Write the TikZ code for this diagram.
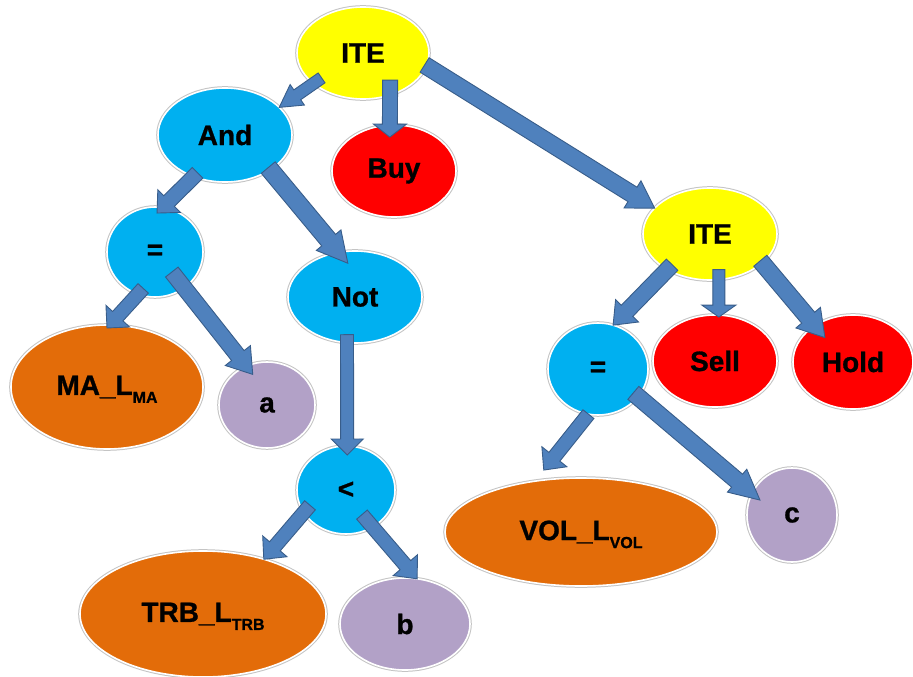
\documentclass[tikz,border=0pt]{standalone}
\usepackage{fontspec}
\setmainfont{Liberation Sans}[BoldFeatures={FakeBold=0.9}]
\usetikzlibrary{calc,shapes.geometric}

\definecolor{ityel}{HTML}{FFFF00}
\definecolor{opblue}{HTML}{00B0F0}
\definecolor{actred}{HTML}{FF0000}
\definecolor{indorg}{HTML}{E36C09}
\definecolor{parlav}{HTML}{B2A1C7}
\definecolor{arrfill}{HTML}{4F81BD}
\definecolor{arredge}{HTML}{385D8A}
\definecolor{ringgray}{HTML}{C4C4C4}

% lowered subscript that does not change the box height
\newcommand\lsub[1]{\raisebox{-8pt}[0pt][0pt]{\fontsize{16}{16}\selectfont #1}}

\tikzset{
  tnode/.style={ellipse, inner sep=0pt, outer sep=0pt, fill=#1,
    draw=white, line width=1.6pt,
    preaction={draw=ringgray, line width=3.6pt},
    font=\fontsize{28}{28}\selectfont\bfseries},
  blockarrow/.style={fill=arrfill, draw=arredge, line width=0.9pt, line join=miter},
}

% block arrow: start, tip, shaft half width, head half width, head length
\newcommand\barrow[5]{%
  \coordinate (bs) at #1;
  \coordinate (bt) at #2;
  \coordinate (bb) at ($(bt)!#5pt!(bs)$);
  \draw[blockarrow]
    ($(bs)!#3pt!90:(bt)$) -- ($(bb)!#3pt!90:(bt)$) -- ($(bb)!#4pt!90:(bt)$)
    -- (bt) -- ($(bb)!#4pt!-90:(bt)$) -- ($(bb)!#3pt!-90:(bt)$)
    -- ($(bs)!#3pt!-90:(bt)$) -- cycle;
}

\begin{document}
\begin{tikzpicture}[x=1pt, y=1pt]
\useasboundingbox[fill=white] (0,0) rectangle (913,-677);

% ---- tree nodes ----
\node[tnode=ityel,  minimum width=132pt, minimum height=92pt]  (ite1) at (363,-53)  {ITE};
\node[tnode=opblue, minimum width=134pt, minimum height=94pt]  (and)  at (225,-135) {And};
\node[tnode=actred, minimum width=124pt, minimum height=92pt]  (buy)  at (394,-171) {Buy};
\node[tnode=opblue, minimum width=96pt,  minimum height=90pt]  (eq1)  at (155,-252) {=};
\node[tnode=opblue, minimum width=134pt, minimum height=92pt]  (not)  at (355,-297) {Not};
\node[tnode=indorg, minimum width=192pt, minimum height=124pt] (ma)   at (107,-387) {MA\_L\lsub{MA}};
\node[tnode=parlav, minimum width=96pt,  minimum height=86pt]  (a)    at (267,-405) {a};
\node[tnode=opblue, minimum width=98pt,  minimum height=88pt]  (lt)   at (346,-490) {<};
\node[tnode=indorg, minimum width=246pt, minimum height=126pt] (trb)  at (203,-614) {TRB\_L\lsub{TRB}};
\node[tnode=parlav, minimum width=130pt, minimum height=92pt]  (b)    at (405,-624) {b};
\node[tnode=ityel,  minimum width=134pt, minimum height=92pt]  (ite2) at (710,-234) {ITE};
\node[tnode=opblue, minimum width=100pt, minimum height=92pt]  (eq2)  at (598,-369) {=};
\node[tnode=actred, minimum width=124pt, minimum height=92pt]  (sell) at (715,-361) {Sell};
\node[tnode=actred, minimum width=120pt, minimum height=94pt]  (hold) at (853,-362) {Hold};
\node[tnode=indorg, minimum width=272pt, minimum height=108pt] (vol)  at (581,-532) {VOL\_L\lsub{VOL}};
\node[tnode=parlav, minimum width=90pt,  minimum height=94pt]  (c)    at (792,-515) {c};

% ---- connectors ----
\barrow{($(ite1.211)!10pt!(ite1.center)$)}{(and.27)}{6}{12.5}{22}
\barrow{($(ite1.-45)!15pt!(ite1.center)$)}{($(buy.97)!12pt!(buy.center)$)}{7.5}{16.5}{13}
\barrow{($(ite1.-11)!2pt!(ite1.center)$)}{(ite2.155)}{8.5}{16}{26}
\barrow{($(and.234)!5pt!(and.center)$)}{($(eq1.87)!6pt!(eq1.center)$)}{7.5}{16}{17}
\barrow{($(and.-37)!3pt!(and.center)$)}{($(not.102)!12pt!(not.center)$)}{9}{16}{30}
\barrow{($(eq1.252)!7pt!(eq1.center)$)}{($(ma.90)!3pt!(ma.center)$)}{7}{16}{16}
\barrow{($(eq1.-50)!20pt!(eq1.center)$)}{($(a.115)!10pt!(a.center)$)}{8}{16}{24}
\barrow{($(not.258)!8pt!(not.center)$)}{($(lt.88)!9pt!(lt.center)$)}{6.5}{16}{16}
\barrow{($(lt.203)!9pt!(lt.center)$)}{(trb.42)}{7}{16}{17}
\barrow{($(lt.-57)!16pt!(lt.center)$)}{(b.75)}{7}{16}{18}
\barrow{($(ite2.219)!7pt!(ite2.center)$)}{(eq2.71)}{8}{16}{20}
\barrow{($(ite2.-76)!10pt!(ite2.center)$)}{($(sell.85)!2pt!(sell.center)$)}{6}{17}{12}
\barrow{($(ite2.-28)!3pt!(ite2.center)$)}{($(hold.139)!16pt!(hold.center)$)}{8.5}{16}{26}
\barrow{(eq2.258)}{($(vol.121)!-11pt!(vol.center)$)}{7}{16}{17}
\barrow{($(eq2.-34)!6pt!(eq2.center)$)}{($(c.155)!10pt!(c.center)$)}{8.5}{15}{30}
\end{tikzpicture}
\end{document}
